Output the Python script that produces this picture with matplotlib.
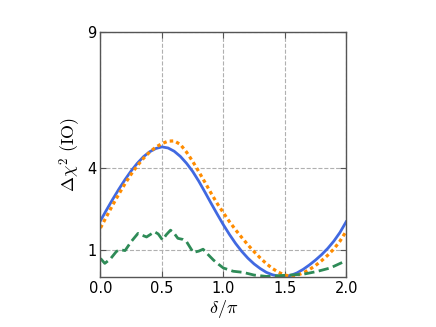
import matplotlib
matplotlib.use("Agg")
import matplotlib.pyplot as plt

plt.rcParams['mathtext.fontset'] = 'cm'

# data (delta/pi, Delta chi^2)
x_blue = [0.0, 0.05, 0.1, 0.15, 0.2, 0.25, 0.3, 0.35, 0.4, 0.45, 0.5, 0.55, 0.6, 0.65,
          0.7, 0.75, 0.8, 0.85, 0.9, 0.95, 1.0, 1.05, 1.1, 1.15, 1.2, 1.25, 1.3, 1.35,
          1.4, 1.45, 1.5, 1.55, 1.6, 1.65, 1.7, 1.75, 1.8, 1.85, 1.9, 1.95, 2.0]
y_blue = [2.07, 2.47, 2.86, 3.23, 3.58, 3.9, 4.18, 4.42, 4.6, 4.72, 4.78, 4.74, 4.62, 4.43,
          4.18, 3.88, 3.52, 3.12, 2.71, 2.31, 1.92, 1.56, 1.23, 0.94, 0.69, 0.48, 0.31, 0.17,
          0.08, 0.03, 0.02, 0.06, 0.15, 0.28, 0.44, 0.62, 0.82, 1.05, 1.32, 1.64, 2.03]

x_orange = x_blue
y_orange = [1.8, 2.23, 2.65, 3.05, 3.43, 3.78, 4.09, 4.36, 4.59, 4.77, 4.9, 4.99, 5.0, 4.87,
            4.59, 4.25, 3.87, 3.48, 3.08, 2.7, 2.36, 2.03, 1.73, 1.45, 1.18, 0.93, 0.7, 0.49,
            0.31, 0.17, 0.07, 0.03, 0.06, 0.15, 0.27, 0.42, 0.6, 0.8, 1.03, 1.32, 1.68]

x_green = [0.0, 0.035, 0.08, 0.13, 0.16, 0.2, 0.25, 0.305, 0.33, 0.375, 0.44, 0.47, 0.505,
           0.535, 0.57, 0.6, 0.63, 0.67, 0.7, 0.755, 0.8, 0.835, 0.87, 0.92, 0.96, 1.0,
           1.08, 1.16, 1.25, 1.35, 1.5, 1.65, 1.76, 1.87, 2.0]
y_green = [0.68, 0.5, 0.66, 0.94, 1.0, 0.97, 1.3, 1.6, 1.55, 1.47, 1.66, 1.58, 1.36,
           1.55, 1.72, 1.6, 1.42, 1.38, 1.3, 0.9, 0.95, 1.02, 0.85, 0.62, 0.47, 0.33,
           0.21, 0.17, 0.07, 0.02, 0.06, 0.1, 0.2, 0.33, 0.6]

xticks = [0.0, 0.5, 1.0, 1.5, 2.0]
xticklabels = ['0.0', '0.5', '1.0', '1.5', '2.0']
yticks = [1, 4, 9]
yticklabels = ['1', '4', '9']

fig = plt.figure(figsize=(4.36, 3.27), dpi=100)
ax = fig.add_axes([0.2305, 0.153, 0.5635, 0.749])

ax.plot(x_blue, y_blue, color='#4169E1', lw=2.0, ls='-')
ax.plot(x_orange, y_orange, color='#FF8C00', lw=2.3, ls=(0, (1.1, 1.0)))
ax.plot(x_green, y_green, color='#2E8B57', lw=2.0, ls='--')

ax.set_xlim(0, 2)
ax.set_ylim(0, 9)
ax.set_xticks(xticks)
ax.set_xticklabels(xticklabels)
ax.set_yticks(yticks)
ax.set_yticklabels(yticklabels)
ax.grid(True, color='#b0b0b0', ls='--', lw=0.8)
ax.tick_params(direction='in', length=4, top=True, right=True, labelsize=10.5,
               color='#555555', pad=3)
for s in ax.spines.values():
    s.set_color('#555555')
    s.set_linewidth(1.0)

ax.set_xlabel(r'$\delta/\pi$', fontsize=13, labelpad=1)
ax.set_ylabel(r'$\Delta\chi^2\ (\mathrm{IO})$', fontsize=13, labelpad=3)

fig.savefig('out.png', dpi=100)
